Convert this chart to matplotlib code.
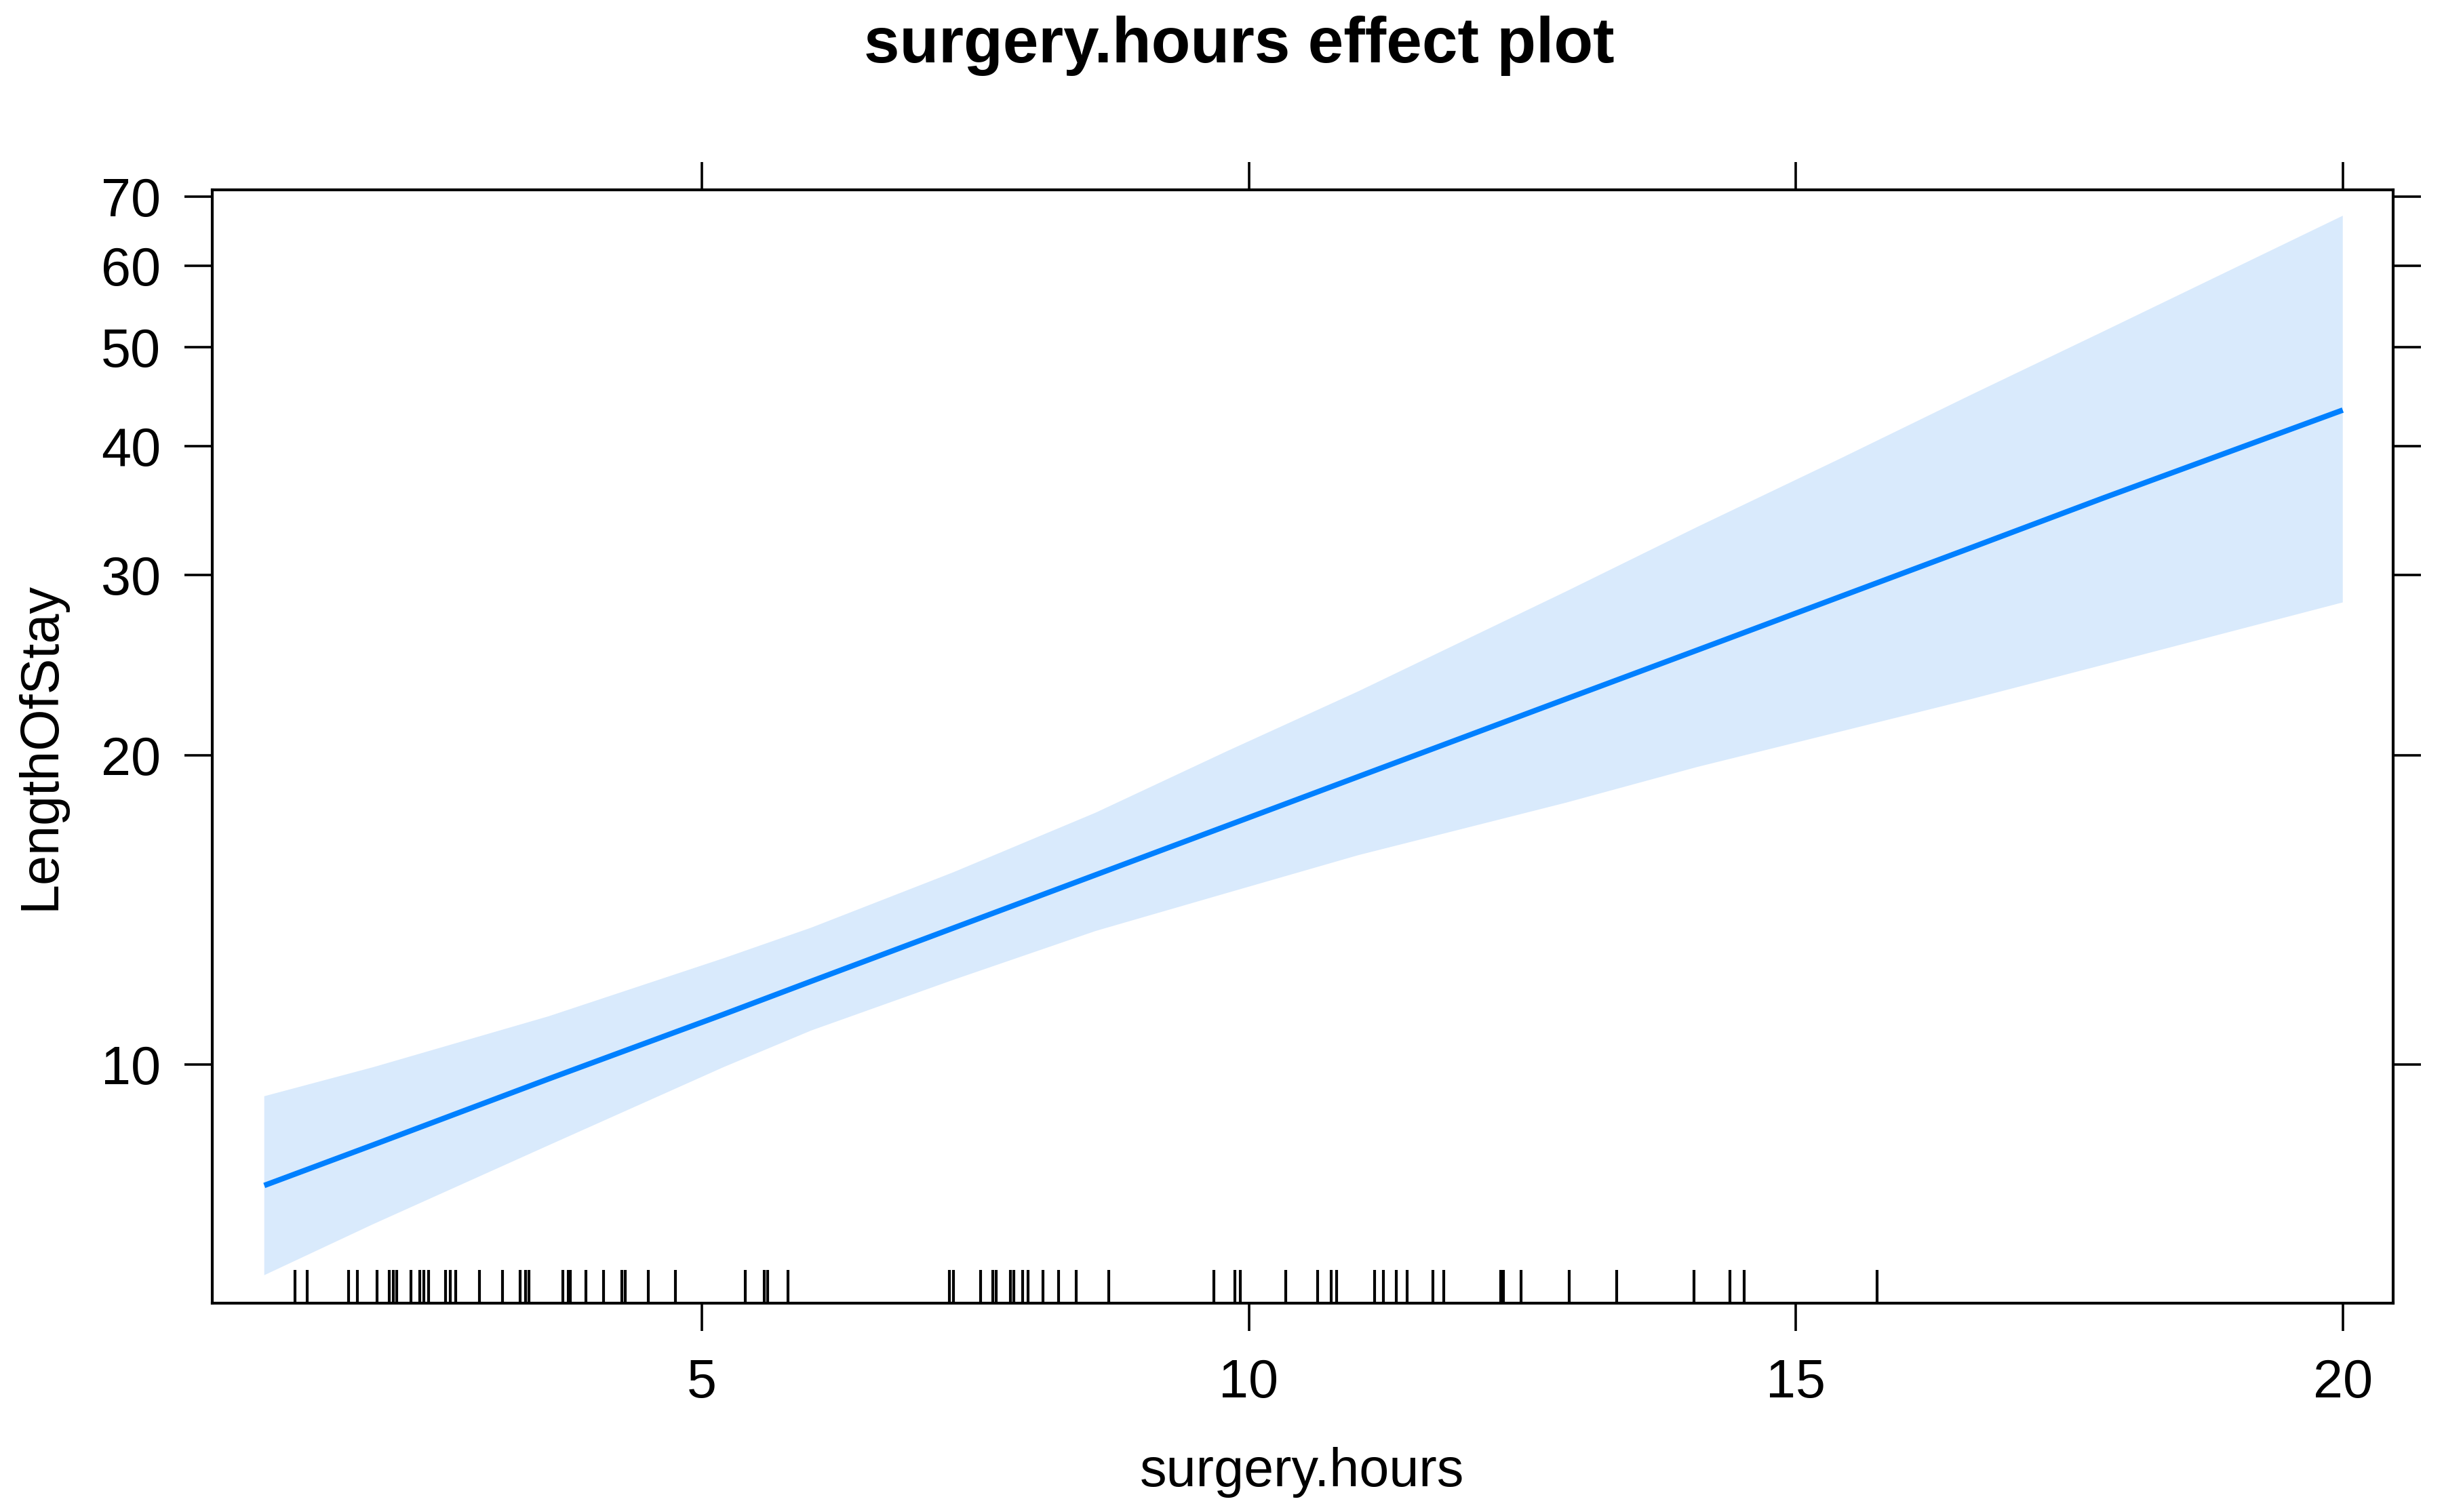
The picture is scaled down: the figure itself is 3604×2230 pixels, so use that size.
import numpy as np
import matplotlib
matplotlib.use("Agg")
import matplotlib.pyplot as plt
from matplotlib.ticker import FixedLocator, NullLocator, FixedFormatter

plt.rcParams['font.family'] = ['Liberation Sans', 'DejaVu Sans']

# values
hours = [1.0, 2.0, 3.6, 5.2, 6.0, 7.3, 8.6, 9.8, 11.0, 12.9, 14.1, 15.4, 16.6, 17.8, 20.0]
fit = [7.63, 8.36, 9.69, 11.2, 12.06, 13.59, 15.31, 17.09, 19.08, 22.71, 25.34, 28.55, 31.87, 35.6, 43.4]
upper = [9.32, 9.95, 11.15, 12.7, 13.6, 15.4, 17.6, 20.2, 23.1, 28.9, 33.4, 38.9, 44.9, 51.7, 67.1]
lower = [6.24, 7.0, 8.35, 9.95, 10.8, 12.1, 13.5, 14.7, 16.0, 18.0, 19.5, 21.1, 22.7, 24.5, 28.2]

# observed surgery.hours (rug)
rug = [1.28, 1.39, 1.77, 1.85, 2.03, 2.14, 2.18, 2.21, 2.34, 2.42, 2.46, 2.50,
       2.66, 2.70, 2.75, 2.97, 3.18, 3.34, 3.39, 3.42, 3.73, 3.78, 3.80, 3.94,
       4.10, 4.27, 4.30, 4.51, 4.76, 5.40, 5.57, 5.60, 5.79, 7.26, 7.30, 7.55,
       7.66, 7.69, 7.82, 7.85, 7.93, 7.98, 8.12, 8.26, 8.42, 8.72, 9.68, 9.87,
       9.92, 10.34, 10.63, 10.75, 10.80, 11.15, 11.23, 11.35, 11.45, 11.68,
       11.78, 12.30, 12.33, 12.49, 12.93, 13.36, 14.07, 14.40, 14.53, 15.74]

x_ticks = [5, 10, 15, 20]
y_ticks = [10, 20, 30, 40, 50, 60, 70]

line_col = '#0080FF'
band_col = '#D9EAFC'

fig = plt.figure(figsize=(36.05, 22.30), dpi=100)
ax = fig.add_axes([0.0868, 0.1381, 0.9789 - 0.0868, 0.8744 - 0.1381])

# confidence band + fitted line
ax.fill(hours + hours[::-1], upper + lower[::-1], color=band_col, lw=0, zorder=1)
ax.plot(hours, fit, color=line_col, lw=5.8, zorder=3, solid_capstyle='butt')

# rug along the bottom
ax.vlines(rug, 0, 0.03, transform=ax.get_xaxis_transform(), color='black', lw=3.0, zorder=4)

ax.set_yscale('log')
ax.set_xlim(0.524, 20.46)
ax.set_ylim(5.86, 71.1)

ax.xaxis.set_major_locator(FixedLocator(x_ticks))
ax.yaxis.set_major_locator(FixedLocator(y_ticks))
ax.yaxis.set_major_formatter(FixedFormatter([str(v) for v in y_ticks]))
ax.xaxis.set_minor_locator(NullLocator())
ax.yaxis.set_minor_locator(NullLocator())

ax.tick_params(axis='both', which='major', direction='out', length=29.5, width=2.6,
               labelsize=57, top=True, right=True, labeltop=False, labelright=False)
ax.tick_params(axis='x', pad=29)
ax.tick_params(axis='y', pad=25)
for s in ax.spines.values():
    s.set_linewidth(3.0)

fig.text(0.507, 1 - 92 / 2230, "surgery.hours effect plot", ha='center', va='baseline',
         fontsize=68, fontweight='bold')
fig.text(1920 / 3605, 1 - 2192 / 2230, "surgery.hours", ha='center', va='baseline', fontsize=57)
fig.text(60 / 3605, 1 - 1100 / 2230, "LengthOfStay", ha='center', va='center',
         rotation=90, fontsize=57)

fig.savefig("out.png", dpi=100)
